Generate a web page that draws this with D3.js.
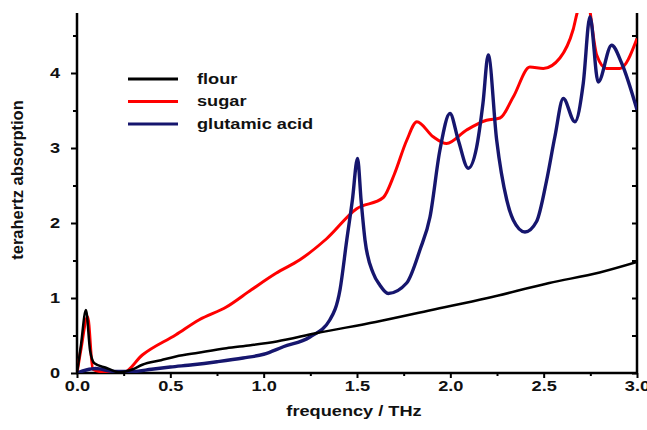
<!DOCTYPE html>
<html>
<head>
<meta charset="utf-8">
<script src="https://cdn.jsdelivr.net/npm/d3@7"></script>
<style>
  body { margin: 0; background: #fff; }
  svg { display: block; }
  text { font-family: "Liberation Sans", Arial, sans-serif; font-weight: bold; fill: #111; }
</style>
</head>
<body>
<div id="chart"></div>
<script>
// Datos (frecuencia en THz, absorción)
const seriesNames = ["flour", "sugar", "glutamic acid"];
const seriesColors = ["#000000", "#ff0000", "#16166e"];

const flourFreq = [0, 0.02, 0.048, 0.07, 0.093, 0.155, 0.225, 0.3, 0.35, 0.45, 0.53, 0.65, 0.8, 0.93, 1.07, 1.28, 1.6, 1.9, 2.2, 2.53, 2.8, 3.0];
const flourAbs  = [0, 0.35, 0.84, 0.3, 0.13, 0.07, 0.01, 0.05, 0.11, 0.17, 0.22, 0.27, 0.33, 0.37, 0.42, 0.53, 0.68, 0.84, 1.0, 1.2, 1.34, 1.48];

const sugarFreq = [0, 0.02, 0.057, 0.085, 0.12, 0.18, 0.245, 0.35, 0.53, 0.655, 0.8, 0.934, 1.066, 1.194, 1.337, 1.498, 1.641, 1.7, 1.766, 1.821, 1.908, 1.98, 2.087, 2.194, 2.266, 2.337, 2.426, 2.498, 2.587, 2.658, 2.685, 2.73, 2.784, 2.837, 2.908, 3.0];
const sugarAbs  = [0, 0.3, 0.75, 0.05, 0.02, 0.01, 0, 0.24, 0.51, 0.71, 0.88, 1.11, 1.33, 1.51, 1.79, 2.19, 2.34, 2.65, 3.1, 3.35, 3.15, 3.06, 3.24, 3.37, 3.4, 3.68, 4.08, 4.06, 4.2, 4.58, 4.85, 5.0, 4.24, 4.06, 4.06, 4.46];

const glutFreq = [0, 0.05, 0.1, 0.2, 0.3, 0.4, 0.5, 0.62, 0.75, 0.89, 1.0, 1.105, 1.248, 1.355, 1.409, 1.445, 1.475, 1.503, 1.522, 1.543, 1.587, 1.623, 1.667, 1.766, 1.837, 1.891, 1.944, 1.998, 2.042, 2.096, 2.14, 2.175, 2.203, 2.248, 2.302, 2.337, 2.4, 2.462, 2.516, 2.56, 2.605, 2.667, 2.712, 2.748, 2.792, 2.864, 2.918, 3.0];
const glutAbs  = [0, 0.04, 0.06, 0.02, 0.02, 0.05, 0.08, 0.11, 0.15, 0.2, 0.25, 0.35, 0.48, 0.71, 1.11, 1.77, 2.3, 2.86, 2.3, 1.77, 1.33, 1.17, 1.06, 1.2, 1.64, 2.08, 2.97, 3.46, 3.11, 2.73, 3.0, 3.6, 4.24, 3.11, 2.31, 2.04, 1.88, 2.02, 2.57, 3.15, 3.66, 3.35, 3.86, 4.75, 3.88, 4.37, 4.13, 3.51];

const xTickValues = [0, 0.5, 1, 1.5, 2, 2.5, 3];
const xTickLabels = ["0.0", "0.5", "1.0", "1.5", "2.0", "2.5", "3.0"];
const xMinorTicks = [0.25, 0.75, 1.25, 1.75, 2.25, 2.75];
const yTickValues = [0, 1, 2, 3, 4];
const yTickLabels = ["0", "1", "2", "3", "4"];
const yMinorTicks = [0.5, 1.5, 2.5, 3.5, 4.5];

// Dimensiones
const W = 647, H = 430;
const margin = {top: 13, right: 10, bottom: 57, left: 77};
const width = W - margin.left - margin.right;
const height = H - margin.top - margin.bottom;
const stretch = "scale(1.3,1)"; // el original está estirado horizontalmente

const svg = d3.select("#chart").append("svg")
    .attr("width", W)
    .attr("height", H);

const g = svg.append("g")
    .attr("transform", `translate(${margin.left},${margin.top})`);

// Escalas
const x = d3.scaleLinear().domain([0, 3]).range([0, width]);
const y = d3.scaleLinear().domain([0, 4.8]).range([height, 0]);

// Clip del área de trazado
svg.append("defs").append("clipPath").attr("id", "plot-clip")
    .append("rect")
    .attr("x", 0).attr("y", 0)
    .attr("width", width).attr("height", height);

// Ejes: menores
g.append("g")
    .attr("transform", `translate(0,${height})`)
    .call(d3.axisBottom(x).tickValues(xMinorTicks).tickSize(3).tickFormat(""))
    .call(s => s.select(".domain").remove());
g.append("g")
    .call(d3.axisLeft(y).tickValues(yMinorTicks).tickSize(4).tickFormat(""))
    .call(s => s.select(".domain").remove());

// Eje X
const xAxis = g.append("g")
    .attr("transform", `translate(0,${height})`)
    .call(d3.axisBottom(x).tickValues(xTickValues).tickSize(5).tickPadding(3)
        .tickFormat((d, i) => xTickLabels[i]));
xAxis.select(".domain").remove();
xAxis.selectAll("text").style("font-size", "14px").attr("transform", stretch);

// Eje Y
const yAxis = g.append("g")
    .call(d3.axisLeft(y).tickValues(yTickValues).tickSize(6).tickPadding(11)
        .tickFormat((d, i) => yTickLabels[i]));
yAxis.select(".domain").remove();
yAxis.selectAll("text").style("font-size", "14px")
    .attr("x", 0)
    .attr("transform", `translate(-17,0) ${stretch}`);

// Eje derecho (ticks hacia dentro, sin etiquetas)
g.append("g")
    .attr("transform", `translate(${width},0)`)
    .call(d3.axisLeft(y).tickValues(d3.merge([yTickValues, yMinorTicks])).tickSize(5).tickFormat(""))
    .call(s => s.select(".domain").remove());

g.selectAll(".tick line").attr("stroke", "#000").attr("stroke-width", 2);

// Líneas de los ejes
g.append("line").attr("x1", 0).attr("x2", 0).attr("y1", 0).attr("y2", height)
    .attr("stroke", "#000").attr("stroke-width", 2.5);
g.append("line").attr("x1", width).attr("x2", width).attr("y1", 0).attr("y2", height)
    .attr("stroke", "#000").attr("stroke-width", 2.5);
g.append("line").attr("x1", -1).attr("x2", width + 1).attr("y1", height).attr("y2", height)
    .attr("stroke", "#000").attr("stroke-width", 2.5);

// Series
const series = [
    {name: seriesNames[0], color: seriesColors[0], width: 2.5, freq: flourFreq, abs: flourAbs},
    {name: seriesNames[1], color: seriesColors[1], width: 3, freq: sugarFreq, abs: sugarAbs},
    {name: seriesNames[2], color: seriesColors[2], width: 3.4, freq: glutFreq, abs: glutAbs}
];

const line = d3.line()
    .x(d => x(d[0]))
    .y(d => y(d[1]))
    .curve(d3.curveMonotoneX);

const plot = g.append("g").attr("clip-path", "url(#plot-clip)");

// dibujar glutamic y sugar debajo, flour encima del pico inicial
[series[1], series[2], series[0]].forEach(s => {
    plot.append("path")
        .datum(d3.zip(s.freq, s.abs))
        .attr("fill", "none")
        .attr("stroke", s.color)
        .attr("stroke-width", s.width)
        .attr("stroke-linejoin", "round")
        .attr("d", line);
});

// Leyenda
const legend = svg.append("g").attr("transform", "translate(128,79)");
series.forEach((s, i) => {
    const row = legend.append("g").attr("transform", `translate(0,${i * 22.5})`);
    row.append("line")
        .attr("x1", 0).attr("x2", 50)
        .attr("stroke", s.color)
        .attr("stroke-width", 3);
    row.append("text")
        .attr("transform", `translate(69,0) ${stretch}`)
        .attr("dy", "0.35em")
        .style("font-size", "14px")
        .text(s.name);
});

// Títulos de ejes
svg.append("text")
    .attr("transform", `translate(${margin.left + width / 2 - 3},416) ${stretch}`)
    .attr("text-anchor", "middle")
    .style("font-size", "14px")
    .text("frequency / THz");

svg.append("text")
    .attr("transform", "translate(23,180) rotate(-90)")
    .attr("text-anchor", "middle")
    .style("font-size", "16.5px")
    .text("terahertz absorption");
</script>
</body>
</html>
